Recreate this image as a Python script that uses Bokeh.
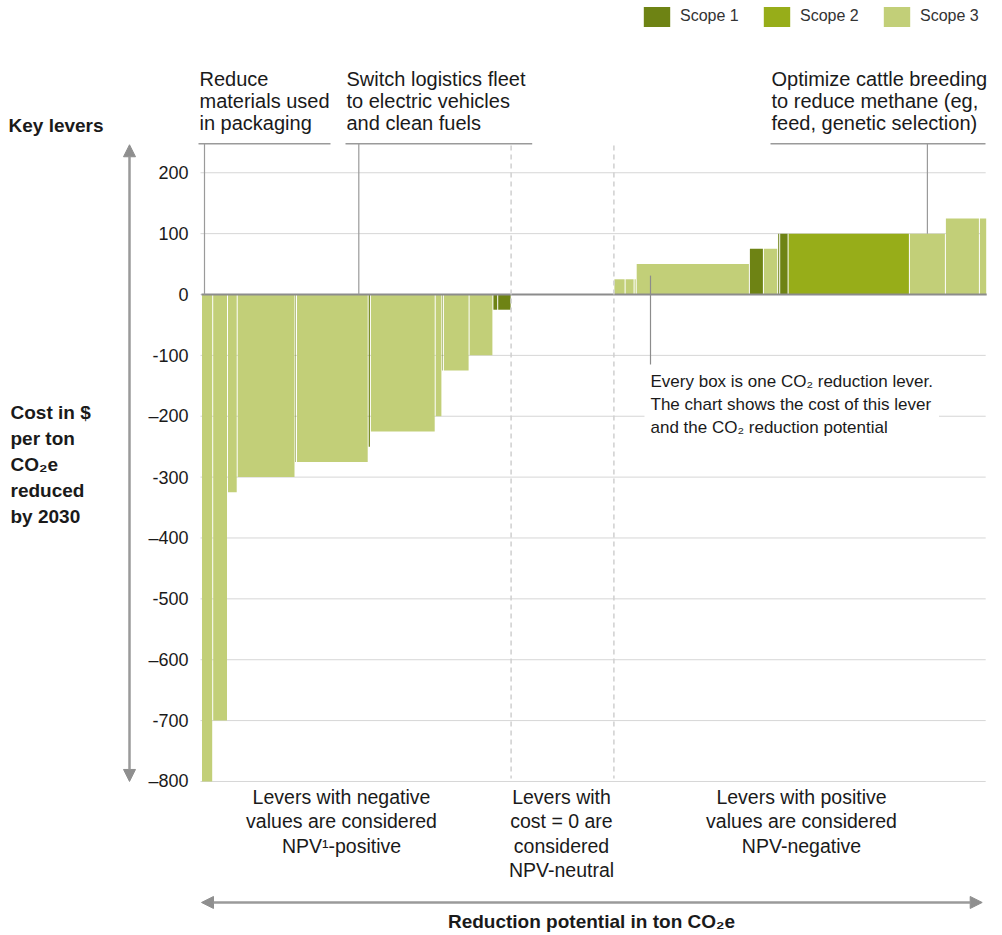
import numpy as np
from bokeh.plotting import figure
from bokeh.models import Range1d, Label, Arrow, NormalHead, ColumnDataSource
from bokeh.embed import file_html
from bokeh.resources import INLINE
from bokeh.core.properties import value

# ---------------- data ----------------
# reduction potential of each lever (width of box, ton CO2e in relative units)
potential = [11.2, 14.8, 9.7, 57.8, 1.5, 71.7, 2.2, 64.8, 6.7, 1.5, 25.7, 23.8, 4.8, 13.4,
             102.8,
             11.2, 9.0, 2.1, 113.2, 14.0, 14.3, 2.0, 8.4, 121.3, 36.0, 34.0, 7.3]
# cost in $ per ton CO2e (height of box)
cost = [-800, -700, -325, -300, -275, -275, -250, -225, -200, -125, -125, -100, -25, -25,
        0,
        25, 25, 25, 50, 75, 75, 100, 100, 100, 100, 125, 125]
# scope of each lever
scope = [3, 3, 3, 3, 1, 3, 1, 3, 3, 1, 3, 3, 1, 1,
         3,
         3, 3, 3, 3, 1, 3, 1, 1, 2, 3, 3, 3]

scope_names = ["Scope 1", "Scope 2", "Scope 3"]
scope_colors = ["#6e8314", "#97ad19", "#c2cf78"]

y_ticks = [-800, -700, -600, -500, -400, -300, -200, -100, 0, 100, 200]
y_tick_labels = ["–800", "-700", "–600", "-500", "–400", "-300", "–200", "-100", "0", "100", "200"]

# ---------------- layout ----------------
FONT = "Liberation Sans"
TXT = "#1a1a1a"
GREY = "#9a9a9a"
W, H = 994, 933
X0_PX = 201          # canvas x of the start of the reduction axis
PX = 0.6087          # pixels per $ on the cost axis
ZERO_Y = 294         # canvas y of cost 0
v_top = ZERO_Y / PX
v_bot = -(H - ZERO_Y) / PX

right = np.cumsum(potential)
left = right - np.array(potential)
total = float(right[-1])
cost_a = np.array(cost)
scope_a = np.array(scope)

p = figure(width=W, height=H, x_range=Range1d(-X0_PX, W - X0_PX), y_range=Range1d(v_bot, v_top),
           output_backend="svg", toolbar_location=None, x_axis_location=None, y_axis_location=None,
           min_border_left=0, min_border_right=0, min_border_top=0, min_border_bottom=0)
p.outline_line_color = None
p.grid.visible = False

# horizontal grid lines and tick labels of the cost axis
p.segment(x0=[-1] * len(y_ticks), x1=[total - 1] * len(y_ticks), y0=y_ticks, y1=y_ticks,
          line_color="#d6d6d6", line_width=1)
p.text(x=[-13] * len(y_ticks), y=y_ticks, text=y_tick_labels, text_font=value(FONT),
       text_font_size="18px", text_align="right", text_baseline="middle", text_color=TXT)

# ---------------- boxes ----------------
GAP = 0.5
for i, (name, col) in enumerate(zip(scope_names, scope_colors)):
    m = scope_a == i + 1
    src = ColumnDataSource(dict(left=left[m] + GAP, right=right[m] - GAP,
                                top=np.maximum(cost_a[m], 0), bottom=np.minimum(cost_a[m], 0)))
    p.quad(left="left", right="right", top="top", bottom="bottom", source=src,
           fill_color=col, line_color=None, legend_label=name)

lg = p.legend[0]
lg.orientation = "horizontal"
lg.location = (640, 904.5)
lg.margin = 0
lg.padding = 0
lg.spacing = 18
lg.glyph_width = 33
lg.glyph_height = 25
lg.label_standoff = 7
lg.label_width = 62
lg.border_line_color = None
lg.background_fill_alpha = 0
lg.label_text_font = FONT
lg.label_text_font_size = "16px"
lg.label_text_color = "#333333"

# zero line
p.segment(x0=[0], x1=[total], y0=[0], y1=[0], line_color="#8c8c8c", line_width=2)

# dashed separators between negative / zero / positive lever groups
neg_end = float(right[cost_a < 0][-1])
pos_start = float(left[cost_a > 0][0])
p.segment(x0=[neg_end, pos_start], x1=[neg_end, pos_start], y0=[244.8, 244.8], y1=[-795, -795],
          line_color="#cfcfcf", line_width=1.5, line_dash="5 4")

# ---------------- annotations ----------------
def lbl(x, y, text, size="20px", bold=False, align="left", baseline="middle", lh=1.0,
        color=TXT, bg=None):
    L = Label(x=x, y=y, text=text, text_font=FONT, text_font_size=size,
              text_font_style="bold" if bold else "normal", text_align=align,
              text_baseline=baseline, text_line_height=lh, text_color=color)
    if bg:
        L.background_fill_color = bg
        L.padding = 6
    p.add_layout(L)

UL = 247.6
lever_notes = [
    (-3, 129, 3.0, 0, "Reduce\nmaterials used\nin packaging"),
    (144, 330.7, 157.3, 0, "Switch logistics fleet\nto electric vehicles\nand clean fuels"),
    (569, 784, 725.9, 100, "Optimize cattle breeding\nto reduce methane (eg,\nfeed, genetic selection)"),
]
for x0, x1, xl, yl, t in lever_notes:
    p.segment(x0=[x0], x1=[x1], y0=[UL], y1=[UL], line_color=GREY, line_width=1.6)
    p.segment(x0=[xl], x1=[xl], y0=[UL], y1=[yl], line_color=GREY, line_width=1.2)
    lbl(x0 + 1, 317.5, t, lh=1.01)

# callout
p.segment(x0=[449], x1=[449], y0=[31], y1=[-115], line_color="#8c8c8c", line_width=1.2)
lbl(443, -180.7, "Every box is one CO₂ reduction lever.\nThe chart shows the cost of this lever\nand the CO₂ reduction potential",
    size="17px", lh=1.19, bg="white")

# group captions
lbl(140, -865.8, "Levers with negative\nvalues are considered\nNPV¹-positive", size="19.5px", align="center", lh=1.11)
lbl(360, -885.5, "Levers with\ncost = 0 are\nconsidered\nNPV-neutral", size="19.5px", align="center", lh=1.11)
lbl(600, -865.8, "Levers with positive\nvalues are considered\nNPV-negative", size="19.5px", align="center", lh=1.11)

# axis titles
lbl(-193, 277.6, "Key levers", size="19px", bold=True)
lbl(-191, -279.3, "Cost in $\nper ton\nCO₂e\nreduced\nby 2030", size="19px", bold=True, lh=1.23)
lbl(390, -1029.5, "Reduction potential in ton CO₂e", size="19px", bold=True, align="center")

# double-headed arrows
def head():
    return NormalHead(size=12, fill_color="#8f8f8f", line_color="#8f8f8f")

p.add_layout(Arrow(x_start=0, x_end=total - 4.5, y_start=-998.8, y_end=-998.8,
                   start=head(), end=head(), line_color="#9a9a9a", line_width=2.5))
p.add_layout(Arrow(x_start=-72, x_end=-72, y_start=-800, y_end=246,
                   start=head(), end=head(), line_color="#9a9a9a", line_width=2.5))

open("out.html", "w").write(file_html(p, INLINE))
